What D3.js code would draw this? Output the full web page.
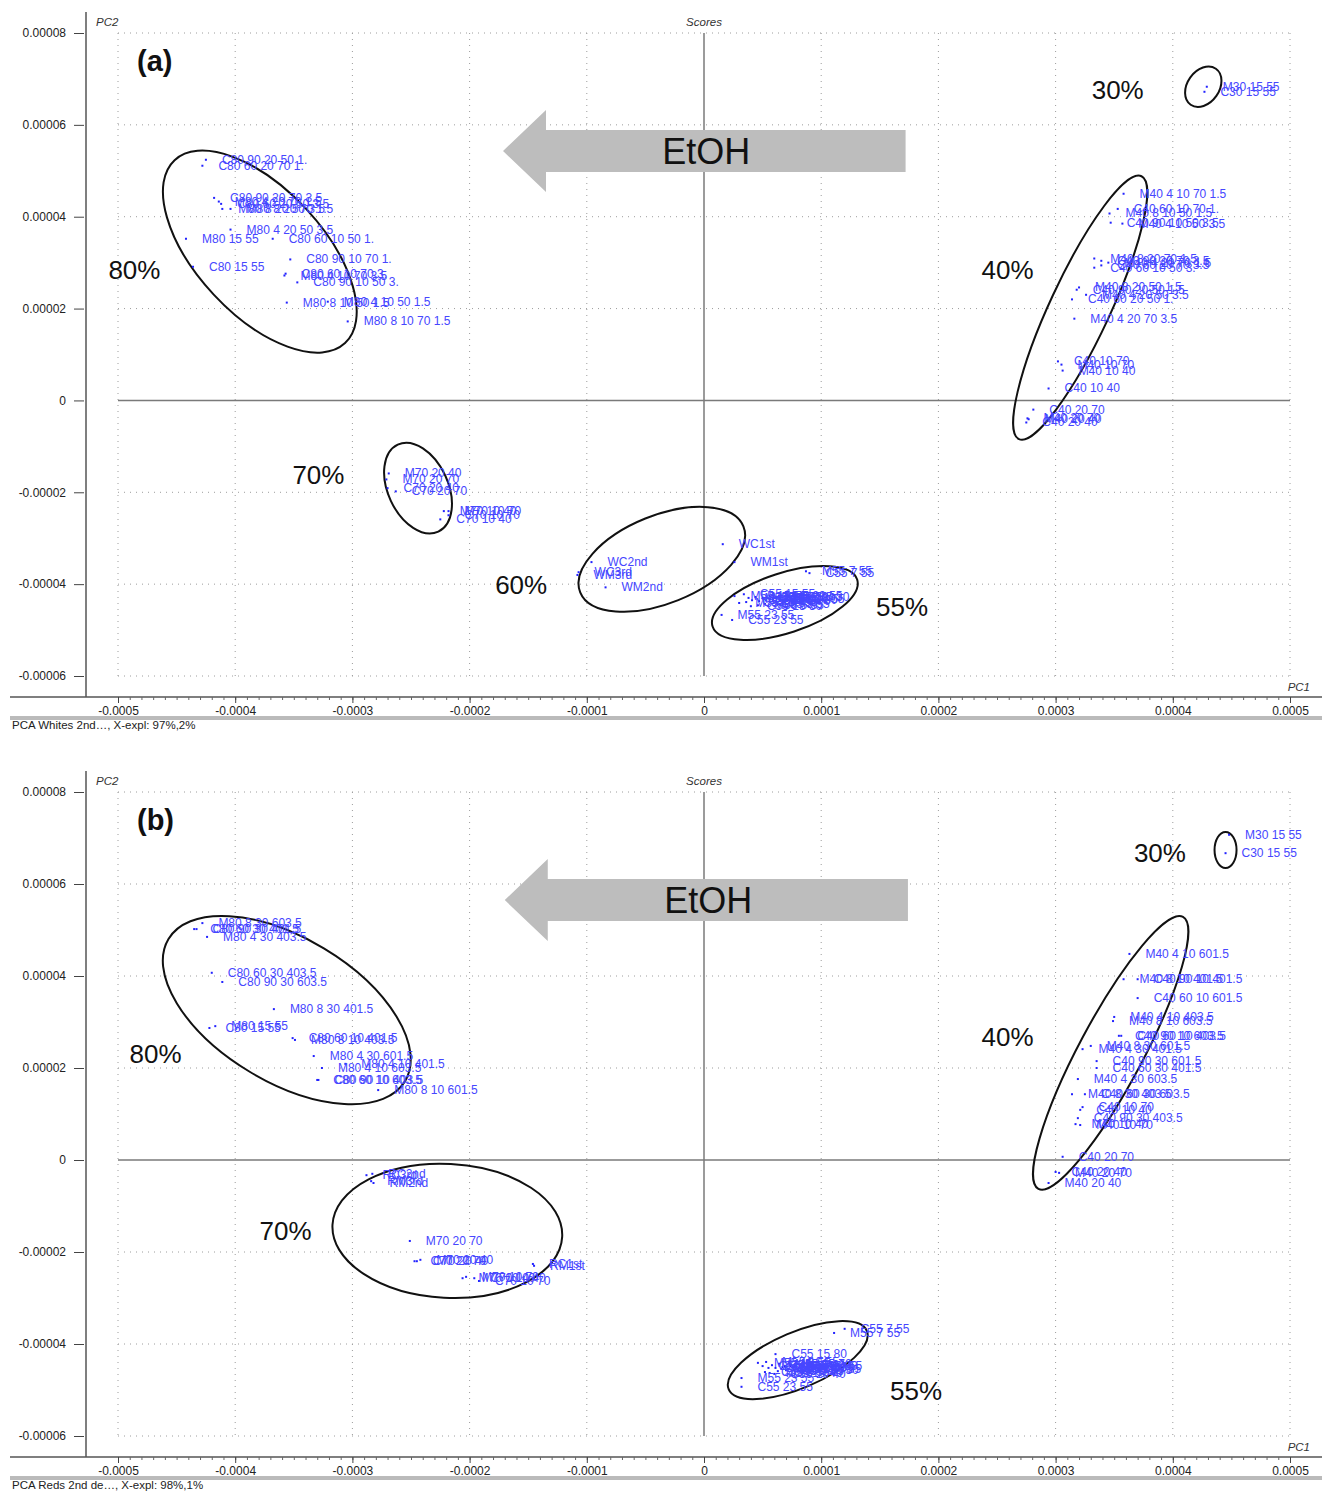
<!DOCTYPE html>
<html>
<head>
<meta charset="utf-8">
<script src="https://cdn.jsdelivr.net/npm/d3@7"></script>
<style>
  body { margin: 0; background: #fff; }
  svg { display: block; font-family: Arial, "Liberation Sans", sans-serif; }
</style>
</head>
<body>
<svg id="chart" width="1326" height="1492"></svg>
<script>
// ---------- axes ----------
const pc1Ticks = [-5e-4, -4e-4, -3e-4, -2e-4, -1e-4, 0, 1e-4, 2e-4, 3e-4, 4e-4, 5e-4];
const pc1TickLabels = ["-0.0005", "-0.0004", "-0.0003", "-0.0002", "-0.0001", "0",
                       "0.0001", "0.0002", "0.0003", "0.0004", "0.0005"];
const pc2Ticks = [8e-5, 6e-5, 4e-5, 2e-5, 0, -2e-5, -4e-5, -6e-5];
const pc2TickLabels = ["0.00008", "0.00006", "0.00004", "0.00002", "0",
                       "-0.00002", "-0.00004", "-0.00006"];

// ---------- (a) whites: sample scores ----------
const whitesSamples = [
  "C80 90 20 50 1.", "C80 60 20 70 1.", "C80 90 20 70 3.5", "M80 4 20 70 1.5", "C80 60 20 50 3.5",
  "M80 8 20 50 3.5", "M80 8 20 70 1.5", "M80 4 20 50 3.5", "M80 15 55", "C80 60 10 50 1.",
  "C80 15 55", "C80 90 10 70 1.", "C80 60 10 70 3.", "M80 4 10 70 3.5", "C80 90 10 50 3.",
  "M80 8 10 50 1.5", "M80 4 10 50 1.5", "M80 8 10 70 1.5",
  "M70 20 40", "M70 20 70", "C70 20 40", "C70 20 70", "M70 10 40", "M70 10 70", "C70 10 40", "C70 10 70",
  "WC1st", "WM1st", "WC2nd", "WC3rd", "WM3rd", "WM2nd",
  "M55 7 55", "C55 7 55", "M55 15 55", "C55 15 55", "M55 10 55", "C55 10 55", "M55 15 40", "C55 15 40",
  "M55 15 70", "C55 15 70", "M55 15 80", "C55 15 80", "M55 20 55", "C55 20 55", "M55 15 30", "C55 15 30",
  "M55 5 55", "C55 5 55", "M55 23 55", "C55 23 55",
  "M40 4 10 70 1.5", "C40 60 10 70 1.", "M40 8 10 50 1.5", "C40 90 10 50 3.5", "M40 4 10 50 3.5",
  "M40 8 20 70 1.5", "C40 90 20 70 3.5", "M40 4 20 70 1.5", "C40 60 20 70 3.5", "C40 60 10 50 3.",
  "M40 8 20 50 1.5", "C40 90 20 50 1.5", "M40 4 20 50 3.5", "C40 60 20 50 1.", "M40 4 20 70 3.5",
  "C40 10 70", "M40 10 70", "M40 10 40", "C40 10 40", "C40 20 70", "M40 20 70", "M40 20 40", "C40 20 40",
  "M30 15 55", "C30 15 55"
];
const whitesPC1 = [
  -4.25e-4, -4.28e-4, -4.18e-4, -4.14e-4, -4.12e-4, -4.11e-4, -4.04e-4, -4.04e-4, -4.42e-4, -3.68e-4,
  -4.36e-4, -3.53e-4, -3.57e-4, -3.58e-4, -3.47e-4, -3.56e-4, -3.21e-4, -3.04e-4,
  -2.69e-4, -2.71e-4, -2.70e-4, -2.63e-4, -2.22e-4, -2.18e-4, -2.25e-4, -2.18e-4,
  0.16e-4, 0.26e-4, -0.96e-4, -1.07e-4, -1.08e-4, -0.84e-4,
  0.87e-4, 0.90e-4, 0.26e-4, 0.34e-4, 0.30e-4, 0.36e-4, 0.38e-4, 0.41e-4,
  0.44e-4, 0.47e-4, 0.50e-4, 0.53e-4, 0.56e-4, 0.59e-4, 0.62e-4, 0.40e-4,
  0.46e-4, 0.52e-4, 0.15e-4, 0.24e-4,
  3.58e-4, 3.53e-4, 3.46e-4, 3.47e-4, 3.57e-4,
  3.33e-4, 3.39e-4, 3.45e-4, 3.39e-4, 3.33e-4,
  3.20e-4, 3.18e-4, 3.26e-4, 3.14e-4, 3.16e-4,
  3.02e-4, 3.05e-4, 3.06e-4, 2.94e-4, 2.81e-4, 2.76e-4, 2.77e-4, 2.75e-4,
  4.29e-4, 4.27e-4
];
const whitesPC2 = [
  5.24e-5, 5.11e-5, 4.41e-5, 4.33e-5, 4.28e-5, 4.17e-5, 4.17e-5, 3.72e-5, 3.52e-5, 3.52e-5,
  2.91e-5, 3.07e-5, 2.76e-5, 2.72e-5, 2.57e-5, 2.13e-5, 2.15e-5, 1.72e-5,
  -1.59e-5, -1.72e-5, -1.91e-5, -1.98e-5, -2.41e-5, -2.41e-5, -2.59e-5, -2.50e-5,
  -3.13e-5, -3.52e-5, -3.52e-5, -3.74e-5, -3.80e-5, -4.07e-5,
  -3.72e-5, -3.76e-5, -4.26e-5, -4.22e-5, -4.41e-5, -4.39e-5, -4.30e-5, -4.35e-5,
  -4.28e-5, -4.37e-5, -4.30e-5, -4.35e-5, -4.26e-5, -4.33e-5, -4.28e-5, -4.48e-5,
  -4.46e-5, -4.43e-5, -4.67e-5, -4.78e-5,
  4.50e-5, 4.17e-5, 4.07e-5, 3.87e-5, 3.85e-5,
  3.09e-5, 3.04e-5, 3.00e-5, 2.94e-5, 2.89e-5,
  2.46e-5, 2.41e-5, 2.30e-5, 2.20e-5, 1.78e-5,
  0.85e-5, 0.78e-5, 0.65e-5, 0.26e-5, -0.20e-5, -0.39e-5, -0.41e-5, -0.48e-5,
  6.83e-5, 6.72e-5
];

// ---------- (b) reds: sample scores ----------
const redsSamples = [
  "M80 8 30 603.5", "C80 60 30 401.5", "C80 90 30 401.5", "M80 4 30 403.5", "C80 60 30 403.5",
  "C80 90 30 603.5", "M80 8 30 401.5", "M80 15 55", "C80 15 55", "C80 60 10 401.5",
  "M80 8 10 403.5", "M80 4 30 601.5", "M80 4 10 603.5", "M80 4 10 401.5", "C80 60 10 603.5",
  "C80 90 10 403.5", "M80 8 10 601.5",
  "RC3rd", "RC2nd", "RM3rd", "RM2nd", "M70 20 70", "C70 20 70", "C70 20 40", "M70 20 40",
  "M70 10 40", "M70 10 70", "C70 10 40", "C70 10 70", "RC1st", "RM1st",
  "C55 7 55", "M55 7 55", "C55 15 80", "M55 15 55", "C55 15 55", "M55 10 55", "C55 10 55",
  "M55 15 40", "C55 15 40", "M55 15 70", "C55 15 70", "M55 15 80", "M55 20 55", "C55 20 55",
  "M55 15 30", "C55 15 30", "M55 5 55", "C55 5 55", "M55 10 40", "C55 10 40", "M55 23 55", "C55 23 55",
  "M40 4 10 601.5", "M40 8 10 401.5", "C40 90 10 401.5", "C40 60 10 601.5", "M40 4 10 403.5",
  "M40 8 10 603.5", "C40 90 10 603.5", "C40 60 10 403.5", "M40 4 30 401.5", "M40 8 30 601.5",
  "C40 90 30 601.5", "C40 60 30 401.5", "M40 4 30 603.5", "M40 8 30 403.5", "C40 60 30 603.5",
  "C40 10 70", "C40 10 40", "C40 90 30 403.5", "M40 10 40", "M40 10 70",
  "C40 20 70", "C40 20 40", "M40 20 70", "M40 20 40",
  "M30 15 55", "C30 15 55"
];
const redsPC1 = [
  -4.28e-4, -4.35e-4, -4.33e-4, -4.24e-4, -4.20e-4,
  -4.11e-4, -3.67e-4, -4.17e-4, -4.22e-4, -3.51e-4,
  -3.49e-4, -3.33e-4, -3.26e-4, -3.06e-4, -3.30e-4,
  -3.29e-4, -2.78e-4,
  -2.88e-4, -2.83e-4, -2.84e-4, -2.82e-4, -2.51e-4, -2.47e-4, -2.45e-4, -2.42e-4,
  -2.06e-4, -2.03e-4, -1.96e-4, -1.92e-4, -1.46e-4, -1.45e-4,
  1.20e-4, 1.11e-4, 0.61e-4, 0.46e-4, 0.50e-4, 0.53e-4, 0.55e-4,
  0.58e-4, 0.61e-4, 0.64e-4, 0.66e-4, 0.69e-4, 0.72e-4, 0.74e-4,
  0.70e-4, 0.67e-4, 0.63e-4, 0.52e-4, 0.56e-4, 0.60e-4, 0.32e-4, 0.32e-4,
  3.63e-4, 3.58e-4, 3.70e-4, 3.70e-4, 3.50e-4,
  3.49e-4, 3.54e-4, 3.56e-4, 3.23e-4, 3.30e-4,
  3.35e-4, 3.35e-4, 3.19e-4, 3.14e-4, 3.25e-4,
  3.23e-4, 3.21e-4, 3.19e-4, 3.17e-4, 3.21e-4,
  3.06e-4, 3.00e-4, 3.03e-4, 2.94e-4,
  4.48e-4, 4.45e-4
];
const redsPC2 = [
  5.15e-5, 5.02e-5, 5.02e-5, 4.85e-5, 4.07e-5,
  3.87e-5, 3.28e-5, 2.91e-5, 2.87e-5, 2.65e-5,
  2.61e-5, 2.26e-5, 2.00e-5, 2.09e-5, 1.74e-5,
  1.74e-5, 1.52e-5,
  -0.33e-5, -0.30e-5, -0.46e-5, -0.50e-5, -1.76e-5, -2.20e-5, -2.20e-5, -2.17e-5,
  -2.57e-5, -2.54e-5, -2.57e-5, -2.63e-5, -2.26e-5, -2.30e-5,
  -3.67e-5, -3.76e-5, -4.22e-5, -4.41e-5, -4.48e-5, -4.39e-5, -4.52e-5,
  -4.46e-5, -4.52e-5, -4.43e-5, -4.54e-5, -4.48e-5, -4.54e-5, -4.48e-5,
  -4.57e-5, -4.50e-5, -4.59e-5, -4.61e-5, -4.63e-5, -4.65e-5, -4.74e-5, -4.93e-5,
  4.48e-5, 3.93e-5, 3.93e-5, 3.52e-5, 3.11e-5,
  3.02e-5, 2.70e-5, 2.70e-5, 2.41e-5, 2.48e-5,
  2.15e-5, 2.00e-5, 1.76e-5, 1.43e-5, 1.43e-5,
  1.15e-5, 1.09e-5, 0.91e-5, 0.78e-5, 0.76e-5,
  0.07e-5, -0.26e-5, -0.28e-5, -0.50e-5,
  7.07e-5, 6.67e-5
];

// ---------- ethanol groups: ring centres and tag positions ----------
const whitesGroups = ["80%", "70%", "60%", "55%", "40%", "30%"];
const whitesRingPC1 = [-3.79e-4, -2.44e-4, -0.36e-4, 0.69e-4, 3.21e-4, 4.26e-4];
const whitesRingPC2 = [3.24e-5, -1.91e-5, -3.46e-5, -4.41e-5, 2.02e-5, 6.83e-5];
const whitesTagPC1 = [-4.86e-4, -3.29e-4, -1.56e-4, 1.69e-4, 2.59e-4, 3.53e-4];
const whitesTagPC2 = [2.83e-5, -1.63e-5, -4.02e-5, -4.50e-5, 2.83e-5, 6.76e-5];

const redsGroups = ["80%", "70%", "55%", "40%", "30%"];
const redsRingPC1 = [-3.56e-4, -2.19e-4, 0.80e-4, 3.47e-4, 4.45e-4];
const redsRingPC2 = [3.26e-5, -1.54e-5, -4.35e-5, 2.33e-5, 6.74e-5];
const redsTagPC1 = [-4.68e-4, -3.57e-4, 1.81e-4, 2.59e-4, 3.89e-4];
const redsTagPC2 = [2.30e-5, -1.54e-5, -5.02e-5, 2.67e-5, 6.67e-5];

// ring shapes in screen pixels: [semi-major, semi-minor, rotation in degrees]
const ringShapes = {
  a: { "80%": [125, 63, 47], "70%": [48, 30, 65], "60%": [88, 44, -22],
       "55%": [76, 30, -18], "40%": [145, 30, -65], "30%": [22, 16, -55] },
  b: { "80%": [138, 72, 31], "70%": [115, 67, 3], "55%": [75, 28, -23],
       "40%": [154, 32, -62], "30%": [11, 18, 0] }
};

// ---------- panel layout ----------
const panels = [
  {
    id: "a", title: "(a)", footer: "PCA Whites 2nd\u2026, X-expl: 97%,2%",
    samples: whitesSamples, pc1: whitesPC1, pc2: whitesPC2,
    groups: whitesGroups, ringPC1: whitesRingPC1, ringPC2: whitesRingPC2,
    tagPC1: whitesTagPC1, tagPC2: whitesTagPC2,
    arrow: { tip: -1.715e-4, tail: 1.72e-4, level: 5.43e-5 },
    yTop: 33, yBottom: 676, axisTop: 12, axisY: 697
  },
  {
    id: "b", title: "(b)", footer: "PCA Reds 2nd de\u2026, X-expl: 98%,1%",
    samples: redsSamples, pc1: redsPC1, pc2: redsPC2,
    groups: redsGroups, ringPC1: redsRingPC1, ringPC2: redsRingPC2,
    tagPC1: redsTagPC1, tagPC2: redsTagPC2,
    arrow: { tip: -1.70e-4, tail: 1.74e-4, level: 5.65e-5 },
    yTop: 792, yBottom: 1436, axisTop: 771, axisY: 1457
  }
];

const svg = d3.select("#chart");
const X0 = 118, X1 = 1290, AXIS_X = 86;
const minorTicks = d3.range(-50, 51).map(i => i * 1e-5);

panels.forEach(p => {
  const g = svg.append("g").attr("class", "panel-" + p.id);
  const x = d3.scaleLinear().domain([-5e-4, 5e-4]).range([X0, X1]);
  const y = d3.scaleLinear().domain([-6e-5, 8e-5]).range([p.yBottom, p.yTop]);

  // dotted grid
  const grid = g.append("g").attr("stroke", "#9c9c9c").attr("stroke-width", 1)
    .attr("stroke-dasharray", "1,5");
  grid.selectAll(".gx").data(pc1Ticks.filter(d => d !== 0)).join("line")
    .attr("x1", d => x(d)).attr("x2", d => x(d))
    .attr("y1", y(8e-5)).attr("y2", y(-6e-5));
  grid.selectAll(".gy").data(pc2Ticks.filter(d => d !== 0)).join("line")
    .attr("x1", x(-5e-4)).attr("x2", x(5e-4))
    .attr("y1", d => y(d)).attr("y2", d => y(d));

  // origin lines
  g.append("line").attr("x1", x(0)).attr("x2", x(0)).attr("y1", y(8e-5)).attr("y2", y(-6e-5))
    .attr("stroke", "#7a7a7a").attr("stroke-width", 1.5);
  g.append("line").attr("x1", x(-5e-4)).attr("x2", x(5e-4)).attr("y1", y(0)).attr("y2", y(0))
    .attr("stroke", "#7a7a7a").attr("stroke-width", 1.5);

  // left axis
  g.append("line").attr("x1", AXIS_X).attr("x2", AXIS_X).attr("y1", p.axisTop).attr("y2", p.axisY)
    .attr("stroke", "#555").attr("stroke-width", 1.5);
  const yAxis = d3.axisLeft(y).tickValues(pc2Ticks)
    .tickFormat((d, i) => pc2TickLabels[i]).tickSize(10).tickPadding(8);
  const ya = g.append("g").attr("transform", `translate(${AXIS_X - 2},0)`).call(yAxis);
  ya.select(".domain").remove();
  ya.selectAll("line").attr("stroke", "#444");
  ya.selectAll("text").attr("font-size", 12).attr("fill", "#222")
    .attr("font-family", "Arial, 'Liberation Sans', sans-serif");

  // bottom axis
  g.append("line").attr("x1", 10).attr("x2", 1322).attr("y1", p.axisY).attr("y2", p.axisY)
    .attr("stroke", "#555").attr("stroke-width", 1.5);
  const xMinor = d3.axisBottom(x).tickValues(minorTicks).tickFormat("").tickSize(3);
  const xm = g.append("g").attr("transform", `translate(0,${p.axisY})`).call(xMinor);
  xm.select(".domain").remove();
  xm.selectAll("line").attr("stroke", "#666");
  const xAxis = d3.axisBottom(x).tickValues(pc1Ticks)
    .tickFormat((d, i) => pc1TickLabels[i]).tickSize(6).tickPadding(3);
  const xa = g.append("g").attr("transform", `translate(0,${p.axisY})`).call(xAxis);
  xa.select(".domain").remove();
  xa.selectAll("line").attr("stroke", "#444");
  xa.selectAll("text").attr("font-size", 12).attr("fill", "#222")
    .attr("font-family", "Arial, 'Liberation Sans', sans-serif");

  // footer rule and caption
  [p.axisY + 20, p.axisY + 22].forEach(yy =>
    g.append("line").attr("x1", 10).attr("x2", 1322).attr("y1", yy).attr("y2", yy)
      .attr("stroke", "#777").attr("stroke-width", 1));
  g.append("text").attr("x", 12).attr("y", p.axisY + 32).attr("font-size", 11.5)
    .attr("fill", "#222").text(p.footer);

  // axis titles
  const italic = { "font-size": 11.5, "font-style": "italic", fill: "#333" };
  const t1 = g.append("text").attr("x", 96).attr("y", y(8e-5) - 7).text("PC2");
  const t2 = g.append("text").attr("x", x(0)).attr("y", y(8e-5) - 7).attr("text-anchor", "middle").text("Scores");
  const t3 = g.append("text").attr("x", 1310).attr("y", p.axisY - 6).attr("text-anchor", "end").text("PC1");
  [t1, t2, t3].forEach(t => Object.entries(italic).forEach(([k, v]) => t.attr(k, v)));

  // ethanol arrow
  const ay = y(p.arrow.level), tipX = x(p.arrow.tip), tailX = x(p.arrow.tail);
  const headLen = 43, headHalf = 41, bodyHalf = 21;
  g.append("path")
    .attr("d", `M${tipX},${ay} L${tipX + headLen},${ay - headHalf} L${tipX + headLen},${ay - bodyHalf}
                L${tailX},${ay - bodyHalf} L${tailX},${ay + bodyHalf} L${tipX + headLen},${ay + bodyHalf}
                L${tipX + headLen},${ay + headHalf} Z`)
    .attr("fill", "#bdbdbd");
  g.append("text").attr("x", (tipX + tailX) / 2 + 2).attr("y", ay + 13)
    .attr("text-anchor", "middle").attr("font-size", 36).attr("fill", "#111").text("EtOH");

  // panel letter
  g.append("text").attr("x", 137).attr("y", y(8e-5) + 38).attr("font-size", 29)
    .attr("font-weight", "bold").attr("fill", "#111").text(p.title);

  // group rings
  const shapes = ringShapes[p.id];
  g.selectAll(".ring").data(p.groups).join("ellipse")
    .attr("cx", 0).attr("cy", 0)
    .attr("rx", d => shapes[d][0]).attr("ry", d => shapes[d][1])
    .attr("transform", (d, i) => `translate(${x(p.ringPC1[i])},${y(p.ringPC2[i])}) rotate(${shapes[d][2]})`)
    .attr("fill", "none").attr("stroke", "#111").attr("stroke-width", 2);

  // group tags
  g.selectAll(".tag").data(p.groups).join("text")
    .attr("x", (d, i) => x(p.tagPC1[i])).attr("y", (d, i) => y(p.tagPC2[i]) + 9)
    .attr("text-anchor", "middle").attr("font-size", 26).attr("fill", "#111").text(d => d);

  // sample scores
  const idx = d3.range(p.samples.length);
  g.selectAll(".pt").data(idx).join("rect")
    .attr("x", i => x(p.pc1[i]) - 1).attr("y", i => y(p.pc2[i]) - 1)
    .attr("width", 2).attr("height", 2).attr("fill", "#2222ff");
  g.selectAll(".lbl").data(idx).join("text")
    .attr("x", i => x(p.pc1[i]) + 16).attr("y", i => y(p.pc2[i]) + 4)
    .attr("font-size", 12).attr("fill", "#4646ff").text(i => p.samples[i]);
});
</script>
</body>
</html>
